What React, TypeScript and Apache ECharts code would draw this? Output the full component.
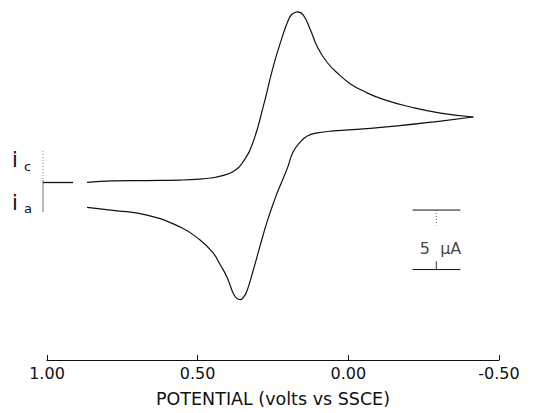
import React, { useEffect, useRef } from "react";
import * as echarts from "echarts";

// Potential (V vs SSCE) and current (µA, cathodic positive)
const forwardE = [0.867, 0.781, 0.668, 0.558, 0.492, 0.449, 0.425, 0.382, 0.349, 0.316, 0.282, 0.249, 0.219, 0.199, 0.187, 0.169, 0.15, 0.126, 0.103, 0.07, 0.027, -0.007, -0.05, -0.116, -0.216, -0.306, -0.415];
const forwardI = [-0.08, 0.05, 0.08, 0.12, 0.2, 0.32, 0.45, 0.85, 1.67, 3.33, 6.33, 9.67, 12.17, 13.58, 14.05, 14.25, 14.0, 12.75, 11.33, 10.0, 8.9, 8.2, 7.6, 6.9, 6.2, 5.75, 5.42];
const reverseE = [-0.415, -0.306, -0.163, -0.05, 0.05, 0.103, 0.136, 0.159, 0.183, 0.203, 0.226, 0.243, 0.269, 0.292, 0.316, 0.336, 0.347, 0.359, 0.371, 0.382, 0.402, 0.425, 0.449, 0.492, 0.558, 0.668, 0.781, 0.867];
const reverseI = [5.42, 5.08, 4.67, 4.42, 4.25, 4.08, 3.83, 3.33, 2.5, 1.08, -0.33, -1.42, -3.33, -5.33, -7.5, -9.17, -9.7, -9.92, -9.8, -9.4, -8.08, -7.0, -6.0, -4.92, -3.83, -2.83, -2.42, -2.17];

const xTicks = [1.0, 0.5, 0.0, -0.5];
const xTitle = "POTENTIAL (volts vs SSCE)";

// 5 µA scale bar
const scaleBarE = [-0.213, -0.372];
const scaleBarCenterE = -0.292;
const scaleBarTop = -2.4;
const scaleBarSpan = 5;
const scaleBarDotEnd = -3.7;
const scaleBarSolidStart = -6.7;
const scaleBarLabel = "5  μA";

export default function App() {
  const ref = useRef<HTMLDivElement>(null);
  useEffect(() => {
    if (!ref.current) return;
    const chart = echarts.init(ref.current, null, { renderer: "svg" });
    const pair = (es: number[], is: number[]) => es.map((e, k) => [e, is[k]]);
    const bottom = scaleBarTop - scaleBarSpan;
    const lineStyle = { color: "#111", width: 1.2 };
    chart.setOption({
      animation: false,
      backgroundColor: "#fff",
      grid: { left: 47, right: 61, top: 3, bottom: 50 },
      xAxis: {
        type: "value",
        min: -0.5,
        max: 1.0,
        interval: 0.5,
        inverse: true,
        splitLine: { show: false },
        axisLine: { show: true, onZero: false, lineStyle: { color: "#111", width: 1 } },
        axisTick: { show: true, inside: true, length: 5, lineStyle: { color: "#111" } },
        axisLabel: {
          margin: 5,
          color: "#111",
          fontSize: 16,
          fontFamily: "DejaVu Sans",
          formatter: (v: number) => (xTicks.includes(v) ? v.toFixed(2) : ""),
        },
        name: xTitle,
        nameLocation: "middle",
        nameGap: 30,
        nameTextStyle: { color: "#111", fontSize: 17.5, fontFamily: "DejaVu Sans" },
      },
      yAxis: { type: "value", min: -15, max: 15, show: false },
      series: [
        { type: "line", data: pair(forwardE, forwardI), smooth: 0.5, symbol: "none", lineStyle },
        { type: "line", data: pair(reverseE, reverseI), smooth: 0.5, symbol: "none", lineStyle },
        { type: "line", data: [[scaleBarE[0], scaleBarTop], [scaleBarE[1], scaleBarTop]], symbol: "none", lineStyle: { color: "#111", width: 1 } },
        { type: "line", data: [[scaleBarE[0], bottom], [scaleBarE[1], bottom]], symbol: "none", lineStyle: { color: "#111", width: 1 } },
        { type: "line", data: [[scaleBarCenterE, scaleBarTop], [scaleBarCenterE, scaleBarDotEnd]], symbol: "none", lineStyle: { color: "#555", width: 1, type: [1, 2] } },
        { type: "line", data: [[scaleBarCenterE, scaleBarSolidStart], [scaleBarCenterE, bottom]], symbol: "none", lineStyle: { color: "#333", width: 1 } },
        {
          type: "scatter",
          data: [[-0.306, -5.6]],
          symbolSize: 0,
          label: { show: true, position: "inside", formatter: scaleBarLabel, color: "#111", fontSize: 16, fontFamily: "DejaVu Sans" },
        },
      ],
      graphic: [
        { type: "line", shape: { x1: 43, y1: 151, x2: 43, y2: 180 }, style: { stroke: "#888", lineWidth: 1, lineDash: [1, 2] } },
        { type: "line", shape: { x1: 43, y1: 180, x2: 43, y2: 212 }, style: { stroke: "#777", lineWidth: 1 } },
        { type: "line", shape: { x1: 43, y1: 182.5, x2: 73, y2: 182.5 }, style: { stroke: "#111", lineWidth: 1.3 } },
        { type: "text", style: { x: 12, y: 160, text: "i", fontSize: 21, fontFamily: "DejaVu Sans", fill: "#111", textVerticalAlign: "middle" } },
        { type: "text", style: { x: 24, y: 166.5, text: "c", fontSize: 13, fontFamily: "DejaVu Sans", fill: "#111", textVerticalAlign: "middle" } },
        { type: "text", style: { x: 12, y: 202.5, text: "i", fontSize: 21, fontFamily: "DejaVu Sans", fill: "#111", textVerticalAlign: "middle" } },
        { type: "text", style: { x: 24, y: 208.5, text: "a", fontSize: 13, fontFamily: "DejaVu Sans", fill: "#111", textVerticalAlign: "middle" } },
      ],
    });
    return () => chart.dispose();
  }, []);
  return <div ref={ref} style={{ position: "fixed", left: 0, top: 0, width: 560, height: 413 }} />;
}
